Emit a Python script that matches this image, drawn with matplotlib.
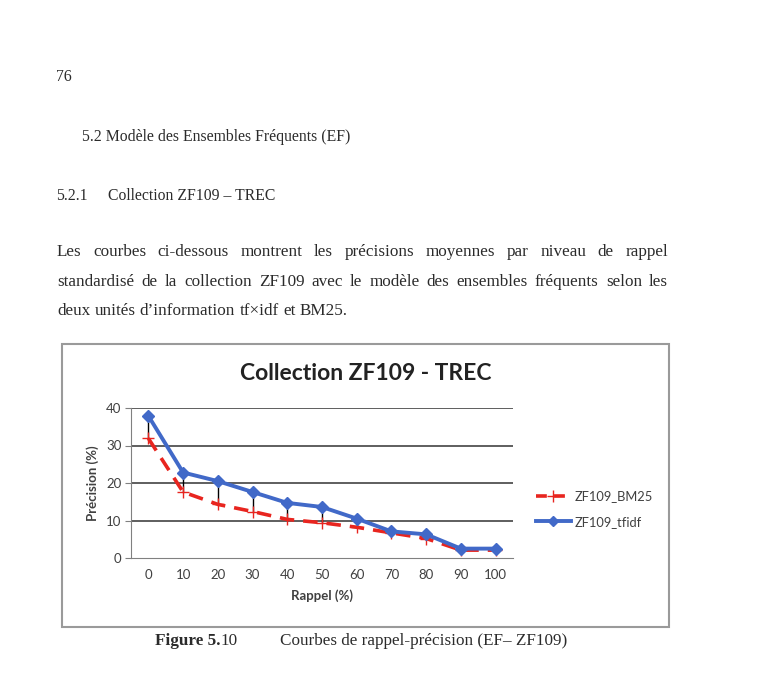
import matplotlib
matplotlib.use("Agg")
import matplotlib.pyplot as plt
from matplotlib.lines import Line2D
from matplotlib.patches import Rectangle

# Data
rappel = [0, 10, 20, 30, 40, 50, 60, 70, 80, 90, 100]
bm25 = [31.9, 17.6, 14.3, 12.4, 10.3, 9.4, 8.2, 6.7, 5.2, 2.1, 2.1]
tfidf = [37.9, 22.8, 20.5, 17.6, 14.7, 13.6, 10.5, 7.1, 6.3, 2.5, 2.5]
y_ticks = [0, 10, 20, 30, 40]

W, H = 768, 677
fig = plt.figure(figsize=(W / 100, H / 100), dpi=100)
fig.patch.set_facecolor("white")


def fx(x):
    return x / W


def fy(y):
    return 1 - y / H


serif = "Liberation Serif"
sans = "Lato"
page_col = "#2b2b2b"
head_size = 11.3
body_size = 12.3

# Page text
fig.text(fx(56), fy(77), "76", family=serif, fontsize=head_size, color=page_col, va="center")
fig.text(fx(82), fy(137), "5.2 Modèle des Ensembles Fréquents (EF)", family=serif,
         fontsize=head_size, color=page_col, va="center")
fig.text(fx(56), fy(196), "5.2.1", family=serif, fontsize=head_size, color=page_col,
         va="center")
fig.text(fx(108), fy(196), "Collection ZF109 – TREC", family=serif, fontsize=head_size,
         color=page_col, va="center")

para = [
    "Les courbes ci-dessous montrent les précisions moyennes par niveau de rappel",
    "standardisé de la collection ZF109 avec le modèle des ensembles fréquents selon les",
    "deux unités d’information tf×idf et BM25.",
]
para_y = [252, 282, 311]
left, right = 57, 668

# justified paragraph: place words one by one
renderer = fig.canvas.get_renderer()
for i, line in enumerate(para):
    words = line.split(" ")
    texts = [fig.text(0, fy(para_y[i]), w, family=serif, fontsize=body_size,
                      color=page_col, va="center") for w in words]
    widths = [t.get_window_extent(renderer).width for t in texts]
    if i < len(para) - 1:
        gap = (right - left - sum(widths)) / (len(words) - 1)
    else:
        sp = fig.text(0, 0, "a a", family=serif, fontsize=body_size)
        sp2 = fig.text(0, 0, "aa", family=serif, fontsize=body_size)
        gap = sp.get_window_extent(renderer).width - sp2.get_window_extent(renderer).width
        sp.remove()
        sp2.remove()
    x = left
    for t, w in zip(texts, widths):
        t.set_x(fx(x))
        x += w + gap

# Chart frame
fig.patches.append(Rectangle((fx(62), fy(627)), fx(669) - fx(62), fy(344) - fy(627),
                             transform=fig.transFigure, fill=False,
                             edgecolor="#9a9a9a", linewidth=1.5))

# Plot area
ax = fig.add_axes([fx(131), fy(558), fx(513) - fx(131), fy(408) - fy(558)])
xs = list(range(len(rappel)))
ax.set_xlim(-0.5, len(rappel) - 0.5)
ax.set_ylim(0, 40)

for y in y_ticks[1:]:
    ax.axhline(y, color="#333333", linewidth=1.1, zorder=1)

ax.vlines(xs, bm25, tfidf, color="black", linewidth=1.0, zorder=2)
ax.plot(xs, bm25, color="#e8251f", linestyle=(0, (4, 2.5)), linewidth=2.6,
        marker="+", markersize=9, markeredgewidth=1.0, zorder=3, label="ZF109_BM25")
ax.plot(xs, tfidf, color="#4169c8", linewidth=2.8, marker="D", markersize=6.5,
        zorder=4, label="ZF109_tfidf")

for s in ["top", "right"]:
    ax.spines[s].set_visible(False)
ax.spines["left"].set_color("#808080")
ax.spines["bottom"].set_color("#808080")
ax.set_yticks(y_ticks)
ax.set_xticks(xs)
ax.set_xticklabels([str(r) for r in rappel])
ax.tick_params(axis="y", length=4, color="#808080", labelsize=9.5, labelcolor="#404040",
               pad=3)
ax.tick_params(axis="x", length=0, labelsize=9.5, labelcolor="#404040", pad=8)
for lab in ax.get_xticklabels() + ax.get_yticklabels():
    lab.set_family(sans)

ax.set_xlabel("Rappel (%)", family=sans, fontsize=9.5, fontweight="bold",
              color="#404040", labelpad=6)
ax.set_ylabel("Précision (%)", family=sans, fontsize=9.5, fontweight="bold",
              color="#404040", labelpad=5)

fig.text(fx(366), fy(373), "Collection ZF109 - TREC", family=sans, fontsize=16.5,
         fontweight="bold", color="#222222", ha="center", va="center")

# Legend
handles = [
    Line2D([], [], color="#e8251f", linestyle=(0, (3, 2)), linewidth=2.6, marker="+",
           markersize=9, markeredgewidth=1.0),
    Line2D([], [], color="#4169c8", linewidth=2.8, marker="D", markersize=5.5),
]
fig.legend(handles, ["ZF109_BM25", "ZF109_tfidf"], loc="center left",
           bbox_to_anchor=(fx(524), fy(509)), frameon=False, handlelength=2.7,
           handletextpad=0.35, labelspacing=1.05, prop={"family": sans, "size": 9.3},
           labelcolor="#404040")

# Caption: bold "Figure 5." followed directly by regular "10"
cap_bold = fig.text(fx(155), fy(641), "Figure 5.", family=serif, fontsize=body_size,
                    fontweight="bold", color=page_col, va="center")
bw = cap_bold.get_window_extent(renderer).width
fig.text(fx(155 + bw + 0.5), fy(641), "10", family=serif, fontsize=body_size,
         color=page_col, va="center")
fig.text(fx(280), fy(641), "Courbes de rappel-précision (EF– ZF109)", family=serif,
         fontsize=body_size, color=page_col, va="center")

fig.savefig("out.png", dpi=100, facecolor="white")
